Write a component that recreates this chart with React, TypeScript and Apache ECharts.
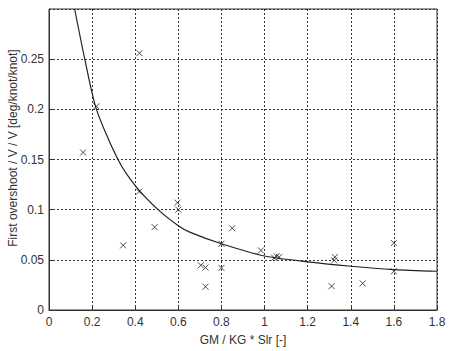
import React, { useEffect, useRef } from "react";
import * as echarts from "echarts";

const xTicks = [0, 0.2, 0.4, 0.6, 0.8, 1, 1.2, 1.4, 1.6, 1.8];
const yTicks = [0, 0.05, 0.1, 0.15, 0.2, 0.25];

const pointX = [0.42, 0.22, 0.158, 0.418, 0.596, 0.6, 0.49, 0.344, 0.704, 0.726, 0.726, 0.8, 0.8, 0.85, 0.983, 1.045, 1.056, 1.068, 1.326, 1.323, 1.311, 1.455, 1.6, 1.6];
const pointY = [0.256, 0.203, 0.157, 0.118, 0.107, 0.1, 0.0826, 0.0644, 0.0446, 0.0423, 0.0232, 0.042, 0.066, 0.0815, 0.0594, 0.052, 0.0535, 0.0528, 0.0528, 0.0495, 0.0238, 0.0265, 0.0667, 0.0386];

const curveX = [0.119, 0.166, 0.22, 0.32, 0.4, 0.506, 0.6, 0.653, 0.8, 1.0, 1.2, 1.4, 1.6, 1.8];
const curveY = [0.3, 0.25, 0.2, 0.15, 0.124, 0.1, 0.084, 0.0776, 0.066, 0.0538, 0.048, 0.0436, 0.0403, 0.0386];

const xTitle = "GM / KG * Slr [-]";
const yTitle = "First overshoot / V / V [deg/knot/knot]";

export default function App() {
  const ref = useRef<HTMLDivElement>(null);
  useEffect(() => {
    document.body.style.margin = "0";
    if (!ref.current) return;
    const chart = echarts.init(ref.current, undefined, { renderer: "svg" });
    const font = "Liberation Sans, Arial, sans-serif";
    const gridLine = { show: true, lineStyle: { color: "#333", type: [2, 2] as any, width: 1 } };
    chart.setOption({
      animation: false,
      backgroundColor: "#fff",
      grid: { left: 49, right: 13, top: 9, bottom: 39, show: true, borderColor: "#333", borderWidth: 1 },
      xAxis: {
        type: "value",
        min: 0,
        max: 1.8,
        interval: 0.2,
        axisLine: { show: true, lineStyle: { color: "#333" } },
        axisTick: { show: true, inside: true, length: 4, lineStyle: { color: "#333" } },
        splitLine: gridLine,
        axisLabel: {
          color: "#333",
          fontFamily: font,
          fontSize: 12,
          margin: 6,
          formatter: (v: number) => {
            const t = xTicks.find((k) => Math.abs(k - v) < 1e-6);
            return t === undefined ? "" : String(t);
          },
        },
        name: xTitle,
        nameLocation: "middle",
        nameGap: 24,
        nameTextStyle: { color: "#333", fontFamily: font, fontSize: 12 },
      },
      yAxis: {
        type: "value",
        min: 0,
        max: 0.3,
        interval: 0.05,
        axisLine: { show: true, lineStyle: { color: "#333" } },
        axisTick: { show: true, inside: true, length: 4, lineStyle: { color: "#333" } },
        splitLine: gridLine,
        axisLabel: {
          color: "#333",
          fontFamily: font,
          fontSize: 12,
          margin: 5,
          showMaxLabel: false,
          formatter: (v: number) => {
            const t = yTicks.find((k) => Math.abs(k - v) < 1e-6);
            return t === undefined ? "" : String(t);
          },
        },
      },
      graphic: [
        {
          type: "text",
          x: 13,
          y: 148,
          rotation: Math.PI / 2,
          style: {
            text: yTitle,
            fill: "#333",
            font: `12px ${font}`,
            align: "center",
            verticalAlign: "middle",
          },
        },
      ],
      series: [
        {
          type: "line",
          data: curveX.map((x, i) => [x, curveY[i]]),
          smooth: 0.25,
          showSymbol: false,
          lineStyle: { color: "#222", width: 1.2 },
          clip: true,
        },
        {
          type: "scatter",
          data: pointX.map((x, i) => [x, pointY[i]]),
          symbol: "path://M0,0L10,10M10,0L0,10",
          symbolSize: 6,
          itemStyle: { color: "transparent", borderColor: "#222", borderWidth: 1 },
        },
      ],
    });
    return () => chart.dispose();
  }, []);
  return <div ref={ref} style={{ width: 450, height: 351 }} />;
}
